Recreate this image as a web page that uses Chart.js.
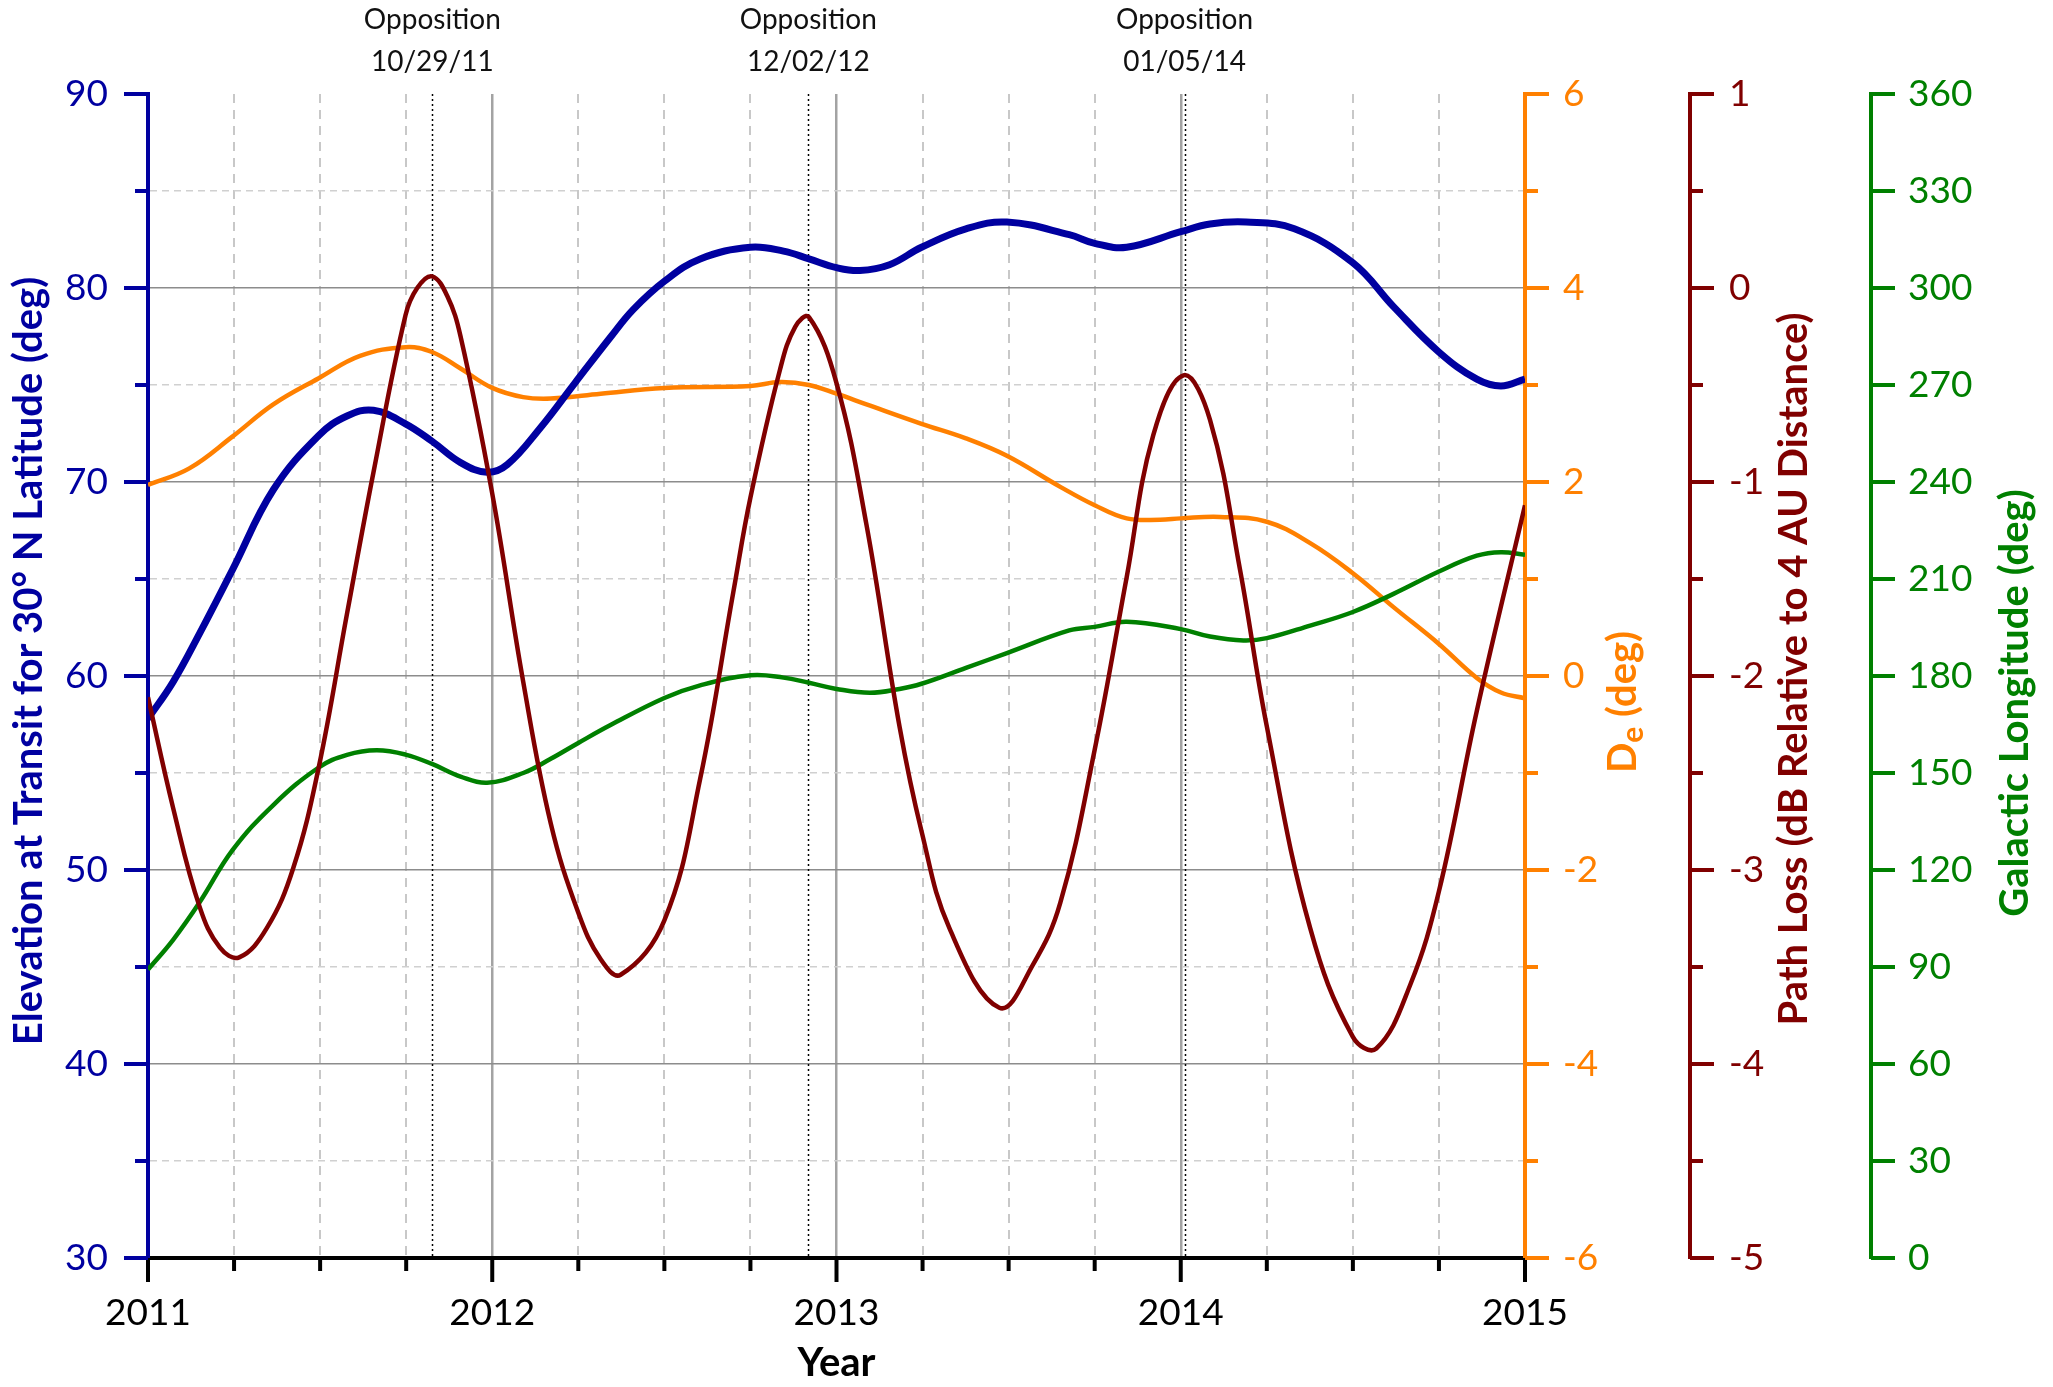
<!DOCTYPE html>
<html>
<head>
<meta charset="utf-8">
<script src="https://cdn.jsdelivr.net/npm/chart.js@4.4.1/dist/chart.umd.min.js"></script>
<style>
	html, body { margin: 0; padding: 0; background: #fff; }
	canvas { display: block; }
</style>
</head>
<body>
<canvas id="chart" width="2053" height="1387"></canvas>
<script>
'use strict';

// Sample dates are decimal years.
var elevYears = [2011.0, 2011.073, 2011.15, 2011.246, 2011.364, 2011.496, 2011.578, 2011.655, 2011.748,
	2011.825, 2011.908, 2011.985, 2012.044, 2012.14, 2012.24, 2012.345, 2012.41, 2012.5, 2012.604,
	2012.75, 2012.846, 2012.92, 2013.0, 2013.068, 2013.154, 2013.247, 2013.376, 2013.495, 2013.676,
	2013.75, 2013.843, 2014.0, 2014.085, 2014.19, 2014.33, 2014.5, 2014.62, 2014.75, 2014.86,
	2014.93, 2015.0];
var elevDeg = [57.8, 59.7, 62.2, 65.5, 69.6, 72.4, 73.4, 73.7, 73.0,
	72.1, 71.0, 70.5, 70.9, 72.8, 75.1, 77.5, 78.9, 80.35, 81.5,
	82.1, 81.9, 81.5, 81.05, 80.9, 81.2, 82.1, 83.05, 83.4, 82.75,
	82.3, 82.1, 82.9, 83.3, 83.4, 83.05, 81.3, 79.0, 76.7, 75.3,
	74.95, 75.3];

var declYears = [2011.0, 2011.12, 2011.246, 2011.364, 2011.496, 2011.616, 2011.748, 2011.825, 2011.908,
	2012.0, 2012.09, 2012.17, 2012.315, 2012.5, 2012.75, 2012.836, 2012.92, 2013.0, 2013.087,
	2013.247, 2013.376, 2013.495, 2013.65, 2013.75, 2013.843, 2013.94, 2014.0, 2014.114, 2014.25,
	2014.376, 2014.5, 2014.618, 2014.75, 2014.86, 2014.93, 2015.0];
var declDeg = [1.97, 2.14, 2.47, 2.80, 3.07, 3.30, 3.39, 3.34, 3.17,
	2.97, 2.875, 2.86, 2.91, 2.97, 2.99, 3.03, 3.0, 2.91, 2.80,
	2.6, 2.45, 2.27, 1.95, 1.76, 1.625, 1.61, 1.625, 1.64, 1.59,
	1.37, 1.06, 0.71, 0.33, -0.02, -0.17, -0.23];

var lossYears = [2011.0, 2011.073, 2011.15, 2011.209, 2011.265, 2011.345, 2011.422, 2011.496, 2011.578,
	2011.655, 2011.748, 2011.782, 2011.825, 2011.869, 2011.908, 2012.0, 2012.09, 2012.17, 2012.25,
	2012.315, 2012.373, 2012.5, 2012.604, 2012.70, 2012.75, 2012.836, 2012.88, 2012.92, 2013.0,
	2013.087, 2013.183, 2013.247, 2013.328, 2013.473, 2013.57, 2013.65, 2013.75, 2013.843, 2013.92,
	2014.008, 2014.085, 2014.172, 2014.25, 2014.376, 2014.5, 2014.568, 2014.667, 2014.75, 2014.86,
	2015.0];
var lossDb = [-2.11, -2.68, -3.19, -3.40, -3.45, -3.30, -2.99, -2.47, -1.68,
	-0.95, -0.14, 0.0, 0.06, -0.04, -0.25, -1.06, -2.03, -2.76, -3.22,
	-3.46, -3.54, -3.26, -2.53, -1.57, -1.08, -0.42, -0.2, -0.15, -0.49,
	-1.22, -2.26, -2.80, -3.30, -3.71, -3.49, -3.17, -2.38, -1.49, -0.76,
	-0.45, -0.68, -1.45, -2.26, -3.30, -3.86, -3.92, -3.59, -3.11, -2.18,
	-1.12];

var galYears = [2011.0, 2011.073, 2011.15, 2011.246, 2011.364, 2011.496, 2011.578, 2011.664, 2011.748,
	2011.825, 2011.908, 2011.985, 2012.09, 2012.17, 2012.25, 2012.345, 2012.5, 2012.604, 2012.75,
	2012.846, 2012.92, 2013.0, 2013.097, 2013.183, 2013.247, 2013.376, 2013.495, 2013.676, 2013.75,
	2013.843, 2014.0, 2014.085, 2014.182, 2014.25, 2014.376, 2014.5, 2014.618, 2014.75, 2014.86,
	2014.93, 2015.0];
var galLon = [89.2, 98.4, 110, 126.2, 140.1, 151.7, 155.6, 157.0, 155.7,
	152.8, 148.9, 147.0, 150.0, 154.4, 159.3, 164.9, 173.2, 177.1, 180.2,
	179.5, 177.9, 176.0, 174.8, 176.0, 177.6, 182.5, 187.1, 194.1, 195.2,
	196.8, 194.5, 192.2, 191.0, 191.7, 195.6, 199.8, 205.4, 212.3, 217.2,
	218.3, 217.5];

var oppositionYears = [2011.826, 2012.918, 2014.011];
var oppositionDates = ['10/29/11', '12/02/12', '01/05/14'];

var BLUE = '#0000a0',
	ORANGE = '#ff8000',
	MAROON = '#800000',
	GREEN = '#008000',
	FONT = 'Lato, "Open Sans", sans-serif';

function zip(xs, ys) {
	return xs.map(function (x, i) {
		return { x: x, y: ys[i] };
	});
}

function tickValue(c) {
	return c.tick ? c.tick.value : null;
}

// tick marks are drawn by hand: Chart.js has only one tick length
var tickMarks = {
	x: { side: 'bottom', color: '#000', major: function (v) { return Number.isInteger(v); } },
	y: { side: 'left', color: BLUE, major: function (v) { return v % 10 === 0; } },
	yDe: { side: 'right', color: ORANGE, major: function (v) { return v % 2 === 0; } },
	yLoss: { side: 'right', color: MAROON, major: function (v) { return Number.isInteger(v); } },
	yGal: { side: 'right', color: GREEN, major: function () { return true; } }
};

// rotated titles, all reading bottom to top; dx from the axis line
var axisTitles = [
	{ scale: 'y', dx: -119, dy: -15, color: BLUE,
		parts: [{ text: 'Elevation at Transit for 30° N Latitude (deg)' }] },
	{ scale: 'yDe', dx: 98, dy: 26, color: ORANGE,
		parts: [{ text: 'D' }, { text: 'e', sub: true }, { text: ' (deg)' }] },
	{ scale: 'yLoss', dx: 104, dy: -7, color: MAROON,
		parts: [{ text: 'Path Loss (dB Relative to 4 AU Distance)' }] },
	{ scale: 'yGal', dx: 144, dy: 27, color: GREEN,
		parts: [{ text: 'Galactic Longitude (deg)' }] }
];

var axisDecor = {
	id: 'axisDecor',

	beforeDatasetsDraw: function (chart) {
		var ctx = chart.ctx,
			area = chart.chartArea,
			xs = chart.scales.x;
		ctx.save();
		ctx.strokeStyle = '#000';
		ctx.lineWidth = 1.5;
		ctx.setLineDash([2, 3]);
		oppositionYears.forEach(function (yr) {
			var px = Math.round(xs.getPixelForValue(yr)) + 0.5;
			ctx.beginPath();
			ctx.moveTo(px, area.top);
			ctx.lineTo(px, area.bottom);
			ctx.stroke();
		});
		ctx.restore();
	},

	afterDraw: function (chart) {
		var ctx = chart.ctx,
			area = chart.chartArea;

		Object.keys(tickMarks).forEach(function (id) {
			var spec = tickMarks[id],
				scale = chart.scales[id];
			ctx.save();
			ctx.strokeStyle = spec.color;
			ctx.lineWidth = 4;
			scale.ticks.forEach(function (t) {
				var len = spec.major(t.value) ? 24 : 13,
					p = scale.getPixelForValue(t.value);
				ctx.beginPath();
				if (spec.side === 'bottom') {
					ctx.moveTo(p, scale.top);
					ctx.lineTo(p, scale.top + len);
				} else if (spec.side === 'left') {
					ctx.moveTo(scale.right, p);
					ctx.lineTo(scale.right - len, p);
				} else {
					ctx.moveTo(scale.left, p);
					ctx.lineTo(scale.left + len, p);
				}
				ctx.stroke();
			});
			ctx.restore();
		});

		var midY = (area.top + area.bottom) / 2;
		axisTitles.forEach(function (t) {
			var scale = chart.scales[t.scale],
				axisX = scale.position === 'left' ? scale.right : scale.left,
				font = 'bold 40px ' + FONT,
				subFont = 'bold 30px ' + FONT,
				total = 0,
				pos;
			ctx.save();
			ctx.translate(axisX + t.dx, midY + t.dy);
			ctx.rotate(-Math.PI / 2);
			ctx.fillStyle = t.color;
			ctx.textAlign = 'left';
			ctx.textBaseline = 'middle';
			t.parts.forEach(function (p) {
				ctx.font = p.sub ? subFont : font;
				total += ctx.measureText(p.text).width;
			});
			pos = -total / 2;
			t.parts.forEach(function (p) {
				ctx.font = p.sub ? subFont : font;
				ctx.fillText(p.text, pos, p.sub ? 10 : 0);
				pos += ctx.measureText(p.text).width;
			});
			ctx.restore();
		});

		ctx.save();
		ctx.fillStyle = '#111';
		ctx.font = '28px ' + FONT;
		ctx.textAlign = 'center';
		ctx.textBaseline = 'middle';
		oppositionYears.forEach(function (yr, i) {
			var px = chart.scales.x.getPixelForValue(yr);
			ctx.fillText('Opposition', px, area.top - 74);
			ctx.fillText(oppositionDates[i], px, area.top - 32);
		});
		ctx.restore();
	}
};

function tickFont() {
	return { family: FONT, size: 37 };
}

new Chart(document.getElementById('chart'), {
	type: 'line',
	data: {
		datasets: [
			{ label: 'Path Loss', data: zip(lossYears, lossDb), yAxisID: 'yLoss',
				borderColor: MAROON, borderWidth: 4.5, order: 0 },
			{ label: 'Elevation', data: zip(elevYears, elevDeg), yAxisID: 'y',
				borderColor: BLUE, borderWidth: 7, order: 1 },
			{ label: 'Galactic Longitude', data: zip(galYears, galLon), yAxisID: 'yGal',
				borderColor: GREEN, borderWidth: 4.5, order: 2 },
			{ label: 'De', data: zip(declYears, declDeg), yAxisID: 'yDe',
				borderColor: ORANGE, borderWidth: 4.5, order: 3 }
		]
	},
	options: {
		responsive: false,
		animation: false,
		devicePixelRatio: 1,
		layout: { padding: { top: 94, right: 0, bottom: 0, left: 0 } },
		elements: {
			point: { radius: 0 },
			line: { tension: 0.4, fill: false }
		},
		plugins: {
			legend: { display: false },
			tooltip: { enabled: false }
		},
		scales: {
			x: {
				type: 'linear',
				position: 'bottom',
				min: 2011,
				max: 2015,
				afterFit: function (s) { s.height = 129; },
				ticks: {
					stepSize: 0.25,
					autoSkip: false,
					maxRotation: 0,
					padding: 33,
					color: '#000',
					font: tickFont(),
					callback: function (v) { return Number.isInteger(v) ? String(v) : ''; }
				},
				grid: {
					drawTicks: false,
					color: function (c) {
						var v = tickValue(c);
						if (v === 2011 || v === 2015) return 'rgba(0,0,0,0)';
						return Number.isInteger(v) ? '#a3a3a3' : '#c8c8c8';
					},
					lineWidth: function (c) { return Number.isInteger(tickValue(c)) ? 2.5 : 2; }
				},
				border: {
					color: '#000',
					width: 4,
					dash: function (c) {
						var v = tickValue(c);
						return v !== null && !Number.isInteger(v) ? [9, 7] : [];
					}
				},
				title: {
					display: true,
					text: 'Year',
					color: '#000',
					padding: 0,
					font: { family: FONT, size: 40, weight: 'bold' }
				}
			},
			y: {
				type: 'linear',
				position: 'left',
				min: 30,
				max: 90,
				afterFit: function (s) { s.width = 148; },
				ticks: {
					stepSize: 5,
					padding: 40,
					color: BLUE,
					font: tickFont(),
					callback: function (v) { return v % 10 === 0 ? String(v) : ''; }
				},
				grid: {
					drawTicks: false,
					color: function (c) {
						var v = tickValue(c);
						if (v === 30 || v === 90) return 'rgba(0,0,0,0)';
						return v % 10 === 0 ? '#8c8c8c' : '#d0d0d0';
					},
					lineWidth: 1.5
				},
				border: {
					color: BLUE,
					width: 4,
					dash: function (c) {
						var v = tickValue(c);
						return v !== null && v % 10 !== 0 ? [7, 5] : [];
					}
				}
			},
			yDe: {
				type: 'linear',
				position: 'right',
				weight: 1,
				min: -6,
				max: 6,
				afterFit: function (s) { s.width = 165; },
				ticks: {
					stepSize: 1,
					padding: 38,
					color: ORANGE,
					font: tickFont(),
					callback: function (v) { return v % 2 === 0 ? String(v) : ''; }
				},
				grid: { drawOnChartArea: false, drawTicks: false },
				border: { color: ORANGE, width: 4 }
			},
			yLoss: {
				type: 'linear',
				position: 'right',
				weight: 2,
				min: -5,
				max: 1,
				afterFit: function (s) { s.width = 181; },
				ticks: {
					stepSize: 0.5,
					padding: 39,
					color: MAROON,
					font: tickFont(),
					callback: function (v) { return Number.isInteger(v) ? String(v) : ''; }
				},
				grid: { drawOnChartArea: false, drawTicks: false },
				border: { color: MAROON, width: 4 }
			},
			yGal: {
				type: 'linear',
				position: 'right',
				weight: 3,
				min: 0,
				max: 360,
				afterFit: function (s) { s.width = 182; },
				ticks: {
					stepSize: 30,
					padding: 37,
					color: GREEN,
					font: tickFont(),
					callback: function (v) { return String(v); }
				},
				grid: { drawOnChartArea: false, drawTicks: false },
				border: { color: GREEN, width: 4 }
			}
		}
	},
	plugins: [axisDecor]
});
</script>
</body>
</html>
